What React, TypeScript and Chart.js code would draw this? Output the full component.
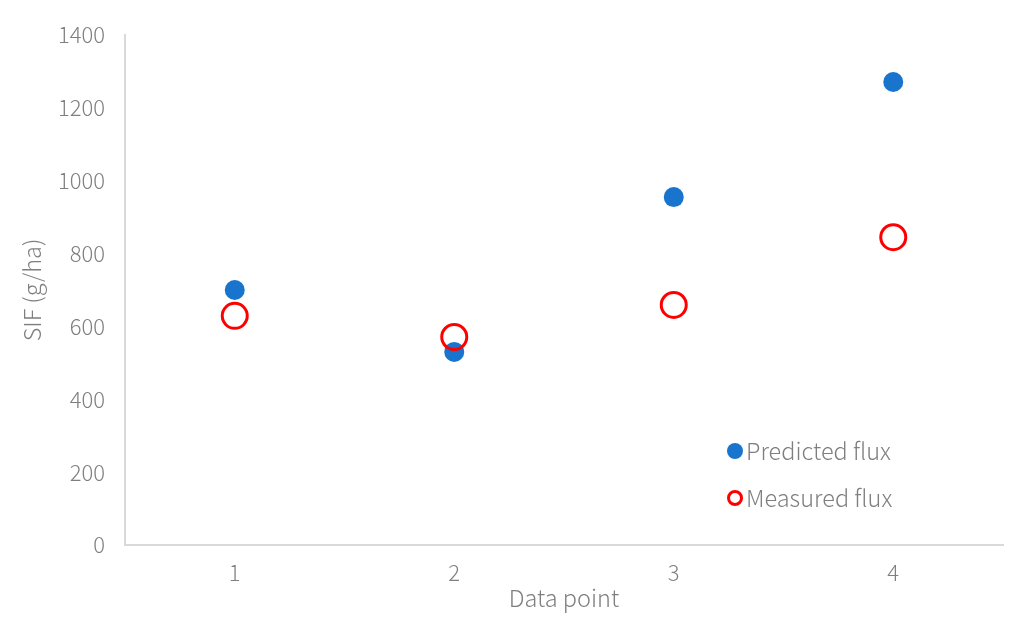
import React, { useEffect, useRef } from "react";
import { Chart, registerables } from "chart.js";

Chart.register(...registerables);

const dataPoints = [1, 2, 3, 4];
const predictedFlux = [700, 530, 955, 1271];
const measuredFlux = [629, 571, 659, 845];
const yTickValues = [0, 200, 400, 600, 800, 1000, 1200, 1400];
const xTickValues = [1, 2, 3, 4];
const seriesNames = ["Predicted flux", "Measured flux"];

const FONT = "'Noto Sans CJK SC', 'Noto Sans', sans-serif";
const TEXT = "#7f7f7f";

const insideLegend = {
  id: "insideLegend",
  afterDraw(chart: any) {
    const ctx = chart.ctx;
    const items = [
      { name: seriesNames[0], fill: "#1874cd", stroke: "#1874cd", w: 0 },
      { name: seriesNames[1], fill: "#ffffff", stroke: "#ff0000", w: 3 },
    ];
    const x0 = 735;
    const ys = [451, 498];
    ctx.save();
    items.forEach((it, i) => {
      ctx.beginPath();
      ctx.arc(x0, ys[i], it.w ? 6.5 : 8, 0, Math.PI * 2);
      ctx.fillStyle = it.fill;
      ctx.fill();
      if (it.w) {
        ctx.lineWidth = it.w;
        ctx.strokeStyle = it.stroke;
        ctx.stroke();
      }
      ctx.fillStyle = TEXT;
      ctx.font = `300 23.5px ${FONT}`;
      ctx.textAlign = "left";
      ctx.textBaseline = "middle";
      ctx.fillText(it.name, x0 + 11, ys[i]);
    });
    ctx.restore();
  },
};

export default function App() {
  const ref = useRef<HTMLCanvasElement | null>(null);
  useEffect(() => {
    document.body.style.margin = "0";
    const canvas = ref.current;
    if (!canvas) return;
    const chart = new Chart(canvas, {
      type: "scatter",
      data: {
        datasets: [
          {
            label: seriesNames[1],
            data: dataPoints.map((x, i) => ({ x, y: measuredFlux[i] })),
            pointRadius: 12.5,
            pointBorderWidth: 3,
            pointBackgroundColor: "rgba(255,255,255,0)",
            pointBorderColor: "#ff0000",
          },
          {
            label: seriesNames[0],
            data: dataPoints.map((x, i) => ({ x, y: predictedFlux[i] })),
            pointRadius: 10,
            pointBorderWidth: 0,
            pointBackgroundColor: "#1874cd",
            pointBorderColor: "#1874cd",
          },
        ],
      },
      options: {
        responsive: false,
        animation: false,
        layout: { autoPadding: false, padding: { left: 0, top: 35, right: 30, bottom: 0 } },
        plugins: { legend: { display: false }, tooltip: { enabled: false } },
        scales: {
          x: {
            type: "linear",
            min: 0.5,
            max: 4.5,
            grid: { display: false, drawTicks: false },
            border: { display: true, color: "#d9d9d9", width: 2 },
            afterBuildTicks: (s: any) => {
              s.ticks = xTickValues.map((v) => ({ value: v }));
            },
            afterFit: (s: any) => {
              s.height = 86;
            },
            ticks: {
              padding: 14,
              color: TEXT,
              font: { family: FONT, size: 22, weight: "300" },
              maxRotation: 0,
              callback: (v: any) => String(v),
            },
            title: {
              display: true,
              text: "Data point",
              color: TEXT,
              font: { family: FONT, size: 23.5, weight: "300" },
              padding: { top: 0, bottom: 19 },
            },
          },
          y: {
            type: "linear",
            min: 0,
            max: 1400,
            grid: { display: false, drawTicks: false },
            border: { display: true, color: "#d9d9d9", width: 2 },
            afterBuildTicks: (s: any) => {
              s.ticks = yTickValues.map((v) => ({ value: v }));
            },
            afterFit: (s: any) => {
              s.width = 125;
            },
            ticks: {
              padding: 20,
              color: TEXT,
              font: { family: FONT, size: 22, weight: "300" },
              callback: (v: any) => String(v),
            },
            title: {
              display: true,
              text: "SIF (g/ha)",
              color: TEXT,
              font: { family: FONT, size: 23.5, weight: "300" },
              padding: { top: 18, bottom: 0 },
            },
          },
        },
      },
      plugins: [insideLegend],
    });
    return () => chart.destroy();
  }, []);
  return (
    <div style={{ width: 1033, height: 631, position: "relative" }}>
      <canvas ref={ref} width={1033} height={631} style={{ display: "block" }} />
    </div>
  );
}
